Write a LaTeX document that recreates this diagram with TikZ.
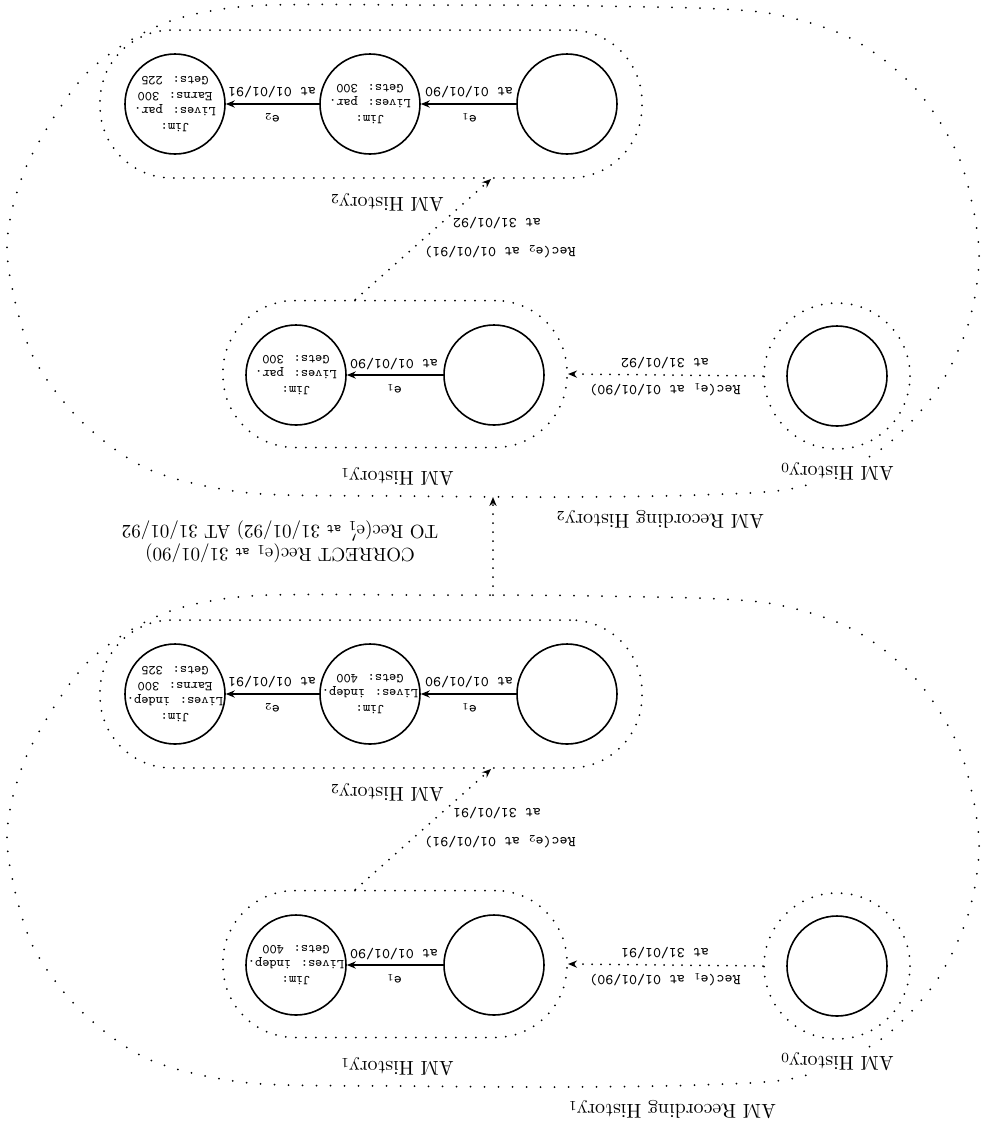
\documentclass[tikz,border=0pt]{standalone}
\usepackage{fontspec}
\usetikzlibrary{arrows.meta,calc}
\newcommand\statefnt{\ttfamily\addfontfeatures{FakeBold=2}\fontsize{6.8}{7.9}\selectfont}
\newcommand\edgefnt{\ttfamily\addfontfeatures{FakeBold=2}\fontsize{7.5}{8.5}\selectfont}
\newcommand\titlefnt{\fontsize{10}{12}\selectfont}
\newcommand\smallat{{\ttfamily\fontsize{7}{8}\selectfont at}}
\begin{document}
\begin{tikzpicture}[x=0.5pt,y=-0.5pt,
  state/.style={circle,draw,line width=0.8pt,minimum size=50pt,inner sep=-12pt,
    align=center,rotate=180,font=\statefnt},
  region/.style={draw,line width=1pt,line cap=round,dash pattern=on 0pt off 5pt,
    rounded corners=36pt},
  ring/.style={circle,draw,line width=1pt,line cap=round,dash pattern=on 0pt off 5pt,
    minimum size=73pt,inner sep=0pt},
  blobline/.style={line width=1pt,line cap=round,dash pattern=on 0pt off 7pt},
  trans/.style={line width=1pt,-{Stealth[length=4.5pt,width=3.6pt]}},
  dottrans/.style={line width=1pt,line cap=round,dash pattern=on 0pt off 4.5pt,
    -{Stealth[length=4.5pt,width=3.6pt]}},
  elabel/.style={rotate=180,font=\edgefnt,inner sep=0.5pt},
  title/.style={rotate=180,font=\titlefnt,inner sep=1pt}]
\useasboundingbox (0,0) rectangle (981,1132);

% ---------- AM Recording History_2 ----------
\begin{scope}
  \draw[blobline] plot[smooth cycle] coordinates {
    (250,6) (420,5) (600,6) (760,12) (850,38) (915,88) (960,160) (979,250)
    (968,325) (935,393) (880,450) (800,487) (700,495) (560,497) (400,496)
    (250,493) (150,470) (80,420) (30,350) (7,250) (27,165) (85,75) (160,25)};
  \coordinate (tblobS) at (493,497);
  \node[title] (trec) at (660,520) {AM Recording History$_2$};

  % History_2
  \node[region,minimum width=271pt,minimum height=74pt] (th2box) at (371,104) {};
  \node[title] (th2lab) at (387,203) {AM History$_2$};
  \node[state] (tc1) at (567,104) {};
  \node[state] (tc2) at (370,104) {Jim:\\Lives: par.\\Gets: 300};
  \node[state] (tc3) at (175,104) {Jim:\\Lives: par.\\Earns: 300\\Gets: 225};
  \draw[trans] (tc1) -- (tc2);
  \draw[trans] (tc2) -- (tc3);
  \node[elabel] (tc12a) at (469,92) {at 01/01/90};
  \node[elabel] (tc12e) at (469,118) {e$_1$};
  \node[elabel] (tc23a) at (272,92) {at 01/01/91};
  \node[elabel] (tc23e) at (272,118) {e$_2$};

  % History_1
  \node[region,minimum width=172pt,minimum height=73.5pt] (th1box) at (395,374) {};
  \node[title] (th1lab) at (397,477) {AM History$_1$};
  \node[state] (td1) at (494,375) {};
  \node[state] (td2) at (296,375) {Jim:\\Lives: par.\\Gets: 300};
  \draw[trans] (td1) -- (td2);
  \node[elabel] (td12a) at (394,364) {at 01/01/90};
  \node[elabel] (td12e) at (394,389) {e$_1$};

  % History_0
  \node[ring] (th0ring) at (837,376) {};
  \node[state] (te0) at (837,376) {};
  \node[title,fill=white] (th0lab) at (837,472) {AM History$_0$};

  % recordings
  \draw[dottrans] (th0ring.west) -- (th1box.east);
  \node[elabel] (tr1a) at (665,390) {Rec(e$_1$ at 01/01/90)};
  \node[elabel] (tr1b) at (665,363) {at 31/01/92};
  \draw[dottrans] (th1box.118.6) -- (th2box.328);
  \node[elabel] (tr2a) at (500,252) {Rec(e$_2$ at 01/01/91)};
  \node[elabel] (tr2b) at (497,223) {at 31/01/92};
\end{scope}

% ---------- AM Recording History_1 ----------
\begin{scope}[shift={(0,590)}]
  \draw[blobline] plot[smooth cycle] coordinates {
    (250,6) (420,5) (600,6) (760,12) (850,38) (915,88) (960,160) (979,250)
    (968,325) (935,393) (880,450) (800,487) (700,495) (560,497) (400,496)
    (250,493) (150,470) (80,420) (30,350) (7,250) (27,165) (85,75) (160,25)};
  \coordinate (bblobN) at (493,5);
  \node[title] (brec) at (672,520) {AM Recording History$_1$};

  % History_2
  \node[region,minimum width=271pt,minimum height=74pt] (bh2box) at (371,104) {};
  \node[title] (bh2lab) at (387,203) {AM History$_2$};
  \node[state] (bc1) at (567,104) {};
  \node[state] (bc2) at (370,104) {Jim:\\Lives: indep.\\Gets: 400};
  \node[state] (bc3) at (175,104) {Jim:\\Lives: indep.\\Earns: 300\\Gets: 325};
  \draw[trans] (bc1) -- (bc2);
  \draw[trans] (bc2) -- (bc3);
  \node[elabel] (bc12a) at (469,92) {at 01/01/90};
  \node[elabel] (bc12e) at (469,118) {e$_1$};
  \node[elabel] (bc23a) at (272,92) {at 01/01/91};
  \node[elabel] (bc23e) at (272,118) {e$_2$};

  % History_1
  \node[region,minimum width=172pt,minimum height=73.5pt] (bh1box) at (395,374) {};
  \node[title] (bh1lab) at (397,477) {AM History$_1$};
  \node[state] (bd1) at (494,375) {};
  \node[state] (bd2) at (296,375) {Jim:\\Lives: indep.\\Gets: 400};
  \draw[trans] (bd1) -- (bd2);
  \node[elabel] (bd12a) at (394,364) {at 01/01/90};
  \node[elabel] (bd12e) at (394,389) {e$_1$};

  % History_0
  \node[ring] (bh0ring) at (837,376) {};
  \node[state] (be0) at (837,376) {};
  \node[title,fill=white] (bh0lab) at (837,472) {AM History$_0$};

  % recordings
  \draw[dottrans] (bh0ring.west) -- (bh1box.east);
  \node[elabel] (br1a) at (665,390) {Rec(e$_1$ at 01/01/90)};
  \node[elabel] (br1b) at (665,363) {at 31/01/91};
  \draw[dottrans] (bh1box.118.6) -- (bh2box.328);
  \node[elabel] (br2a) at (500,252) {Rec(e$_2$ at 01/01/91)};
  \node[elabel] (br2b) at (497,223) {at 31/01/91};
\end{scope}

% ---------- correction between the two recording histories ----------
\draw[dottrans] (bblobN) -- (tblobS);
\node[title,align=center,font=\fontsize{9.5}{11.5}\selectfont] (corr) at (280,542)
  {CORRECT Rec(e$_1$ \smallat{} 31/01/90)\\
   TO Rec(e$'_1$ \smallat{} 31/01/92) AT 31/01/92};
\end{tikzpicture}
\end{document}
